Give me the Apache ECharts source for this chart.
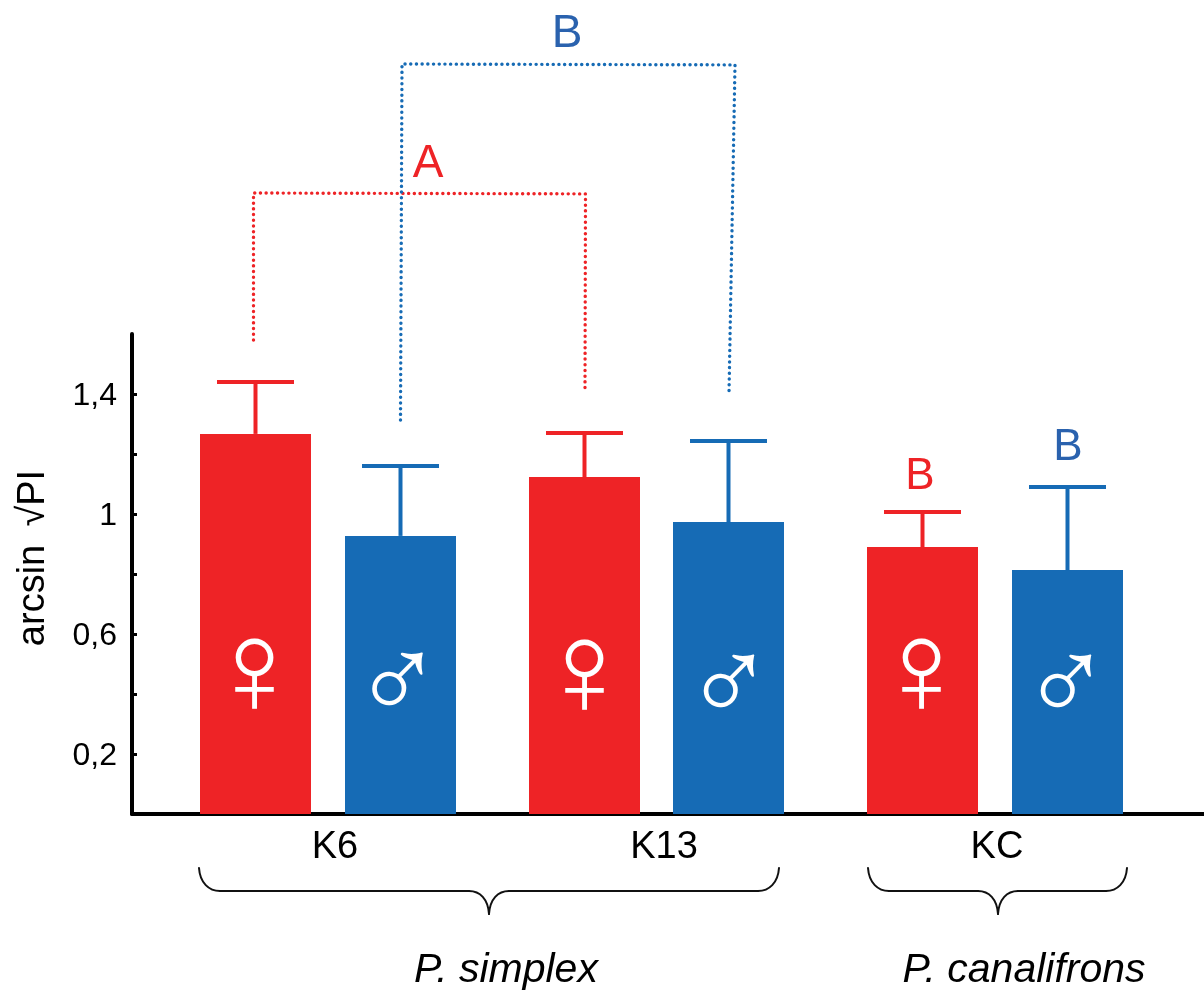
<!DOCTYPE html>
<html><head><meta charset="utf-8">
<style>html,body{margin:0;padding:0;background:#fff}#c{width:1204px;height:990px}</style>
<script src="https://cdn.jsdelivr.net/npm/echarts@6/dist/echarts.min.js"></script>
</head><body><div id="c"></div>
<script>
const RED='#ee2326', BLUE='#166bb5', LETTER_BLUE='#2a62ae';
const FONT='"Liberation Sans", Arial, sans-serif';
const groupLabels=['K6','K13','KC'];
const groupCenters=[203,532,865];
const yTickLabels={0.2:'0,2',0.6:'0,6',1:'1',1.4:'1,4'};
const yTicks=[0.2,0.4,0.6,0.8,1,1.2,1.4];
const femaleX=[123.5,452.5,790.5];
const maleX=[268.5,596.5,935.5];
const femaleMean=[1.267,1.123,0.89];
const maleMean=[0.927,0.973,0.813];
const femaleUpper=[1.44,1.27,1.007];
const maleUpper=[1.16,1.243,1.09];
const bracketA=[[121.5,1.58],[121.5,2.07],[453.5,2.067],[453,1.42]];
const bracketB=[[268.5,1.313],[270,2.5],[603,2.497],[597,1.403]];
const braces=[[67,647,357],[736,995,866]];
const annotations=[
 {t:'A',x:296,y:2.167,size:46,color:RED},
 {t:'B',x:435,y:2.6,size:46,color:LETTER_BLUE},
 {t:'B',x:788,y:1.124,size:44,color:RED},
 {t:'B',x:936,y:1.22,size:44,color:LETTER_BLUE},
 {t:'P. simplex',x:374,y:-0.523,size:41,color:'#000',italic:true},
 {t:'P. canalifrons',x:892,y:-0.523,size:41,color:'#000',italic:true}
];
const sexSymbols=[
 {t:'♀',x:122.5,y:0.455,size:134},{t:'♂',x:265.5,y:0.425,size:120},
 {t:'♀',x:452.5,y:0.452,size:134},{t:'♂',x:597,y:0.418,size:120},
 {t:'♀',x:789.5,y:0.455,size:134},{t:'♂',x:934,y:0.418,size:120}
];
function errorSeries(name,xs,means,uppers,color){
 return {name,type:'custom',clip:false,z:3,
  data:xs.map((x,i)=>[x,means[i],uppers[i]]),
  renderItem(p,api){
   const a=api.coord([api.value(0),api.value(1)]),b=api.coord([api.value(0),api.value(2)]);
   const st={stroke:color,lineWidth:4};
   return {type:'group',children:[
    {type:'line',shape:{x1:a[0],y1:a[1],x2:b[0],y2:b[1]},style:st},
    {type:'line',shape:{x1:b[0]-38.5,y1:b[1],x2:b[0]+38.5,y2:b[1]},style:st}
   ]};
  }};
}
function bracket(pts,color){
 return {type:'line',data:pts,clip:false,symbol:'none',z:2,silent:true,
  lineStyle:{color,width:3.4,type:[0.1,5.6],cap:'round',join:'round'}};
}
const braceSeries={type:'custom',clip:false,silent:true,data:braces,
 renderItem(p,api){
  const y0=api.coord([0,0])[1];
  const L=api.coord([api.value(0),0])[0],R=api.coord([api.value(1),0])[0],M=api.coord([api.value(2),0])[0];
  const top=y0+54,mid=y0+77,tip=y0+100;
  const st={stroke:'#111',lineWidth:2,fill:null,lineCap:'round'};
  const curve=(x1,y1,c1x,c1y,c2x,c2y,x2,y2)=>({type:'bezierCurve',shape:{x1,y1,cpx1:c1x,cpy1:c1y,cpx2:c2x,cpy2:c2y,x2,y2},style:st});
  const line=(x1,x2)=>({type:'line',shape:{x1,y1:mid,x2,y2:mid},style:st});
  return {type:'group',children:[
   curve(L,top,L+1,mid-8,L+10,mid,L+21,mid),
   line(L+21,M-20),
   curve(M-20,mid,M-9,mid,M-1,mid+8,M,tip),
   curve(M,tip,M+1,mid+8,M+9,mid,M+20,mid),
   line(M+20,R-21),
   curve(R-21,mid,R-10,mid,R-1,mid-8,R,top)
  ]};
 }};
const textSeries=(items,fontFn)=>({type:'custom',clip:false,silent:true,z:5,
 data:items.map(d=>[d.x,d.y]),
 renderItem(p,api){
  const d=items[p.dataIndex],c=api.coord([api.value(0),api.value(1)]);
  return {type:'text',x:c[0],y:c[1],style:Object.assign({text:d.t,textAlign:'center',textVerticalAlign:'middle'},fontFn(d))};
 }});
const chart=echarts.init(document.getElementById('c'),null,{renderer:'canvas'});
chart.setOption({
 animation:false,backgroundColor:'#fff',
 grid:{left:132,top:334,width:1072,height:480,containLabel:false,outerBoundsMode:'none'},
 xAxis:{type:'value',min:0,max:1072,splitLine:{show:false},axisTick:{show:false},
  axisLine:{show:true,onZero:false,lineStyle:{color:'#000',width:4}},
  axisLabel:{show:true,customValues:groupCenters,margin:15,color:'#000',fontFamily:FONT,fontSize:38,
   hideOverlap:false,formatter:v=>groupLabels[groupCenters.indexOf(v)]}},
 yAxis:{type:'value',min:0,max:1.6,interval:0.2,splitLine:{show:false},
  name:'arcsin \u2009√PI',nameLocation:'middle',nameGap:79,nameRotate:90,
  nameTextStyle:{color:'#000',fontFamily:FONT,fontSize:38,padding:[0,0,0,32]},
  axisLine:{show:true,onZero:false,lineStyle:{color:'#000',width:4}},
  axisTick:{show:true,inside:true,length:5,customValues:yTicks,lineStyle:{color:'#000',width:3}},
  axisLabel:{show:true,customValues:Object.keys(yTickLabels).map(Number),margin:15,color:'#000',
   rich:{t:{fontFamily:FONT,fontSize:32,color:'#000',padding:[4,0,0,0]}},
   formatter:v=>'{t|'+yTickLabels[v]+'}'}},
 series:[
  {name:'female',type:'bar',barWidth:111,barGap:'-100%',itemStyle:{color:RED},data:femaleX.map((x,i)=>[x,femaleMean[i]])},
  {name:'male',type:'bar',barWidth:111,barGap:'-100%',itemStyle:{color:BLUE},data:maleX.map((x,i)=>[x,maleMean[i]])},
  errorSeries('female error',femaleX,femaleMean,femaleUpper,RED),
  errorSeries('male error',maleX,maleMean,maleUpper,BLUE),
  bracket(bracketA,RED),
  bracket(bracketB,BLUE),
  braceSeries,
  textSeries(annotations,d=>({font:(d.italic?'italic ':'')+d.size+'px '+FONT,fill:d.color})),
  textSeries(sexSymbols,d=>({font:d.size+'px "Liberation Sans"',fill:'#fff'}))
 ]
});
</script></body></html>
